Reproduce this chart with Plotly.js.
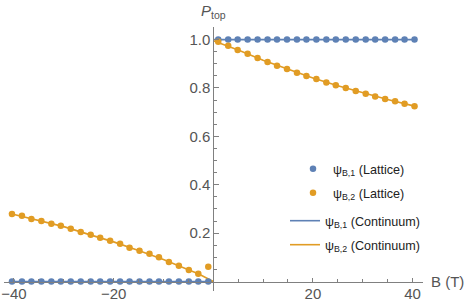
<!DOCTYPE html>
<html><head><meta charset="utf-8">
<script src="https://cdn.plot.ly/plotly-3.0.1.min.js"></script>
<style>html,body{margin:0;padding:0;background:#fff;overflow:hidden;}</style>
</head><body><div id="chart" style="width:466px;height:303px;"></div>
<script>
// ---- data ----
const latticeBNeg = [-40.4, -38.4, -36.5, -34.5, -32.5, -30.6, -28.6, -26.6, -24.6, -22.7, -20.7, -18.7, -16.8, -14.8, -12.8, -10.9, -8.9, -6.9, -4.9, -3.0, -1.0];
const latticeBPos = [1.0, 3.0, 4.9, 6.9, 8.9, 10.9, 12.8, 14.8, 16.8, 18.7, 20.7, 22.7, 24.6, 26.6, 28.6, 30.6, 32.5, 34.5, 36.5, 38.4, 40.4];
const psi1LatticeNeg = [0,0,0,0,0,0,0,0,0,0,0,0,0,0,0,0,0,0,0,0,0];
const psi1LatticePos = [1,1,1,1,1,1,1,1,1,1,1,1,1,1,1,1,1,1,1,1,1];
const psi2LatticeNeg = [0.279, 0.272, 0.259, 0.250, 0.239, 0.231, 0.218, 0.205, 0.193, 0.181, 0.169, 0.156, 0.140, 0.127, 0.115, 0.100, 0.081, 0.065, 0.048, 0.032, 0.061];
const psi2LatticePos = [0.991, 0.974, 0.957, 0.941, 0.924, 0.907, 0.892, 0.878, 0.863, 0.849, 0.837, 0.823, 0.811, 0.800, 0.787, 0.776, 0.765, 0.754, 0.745, 0.735, 0.725];

const contBNeg = [-41.0, -35, -30, -25, -20, -15, -10, -5, -3, 0];
const psi2ContNeg = [0.282, 0.252, 0.227, 0.195, 0.164, 0.128, 0.091, 0.049, 0.032, 0.0];
const contBPos = [0, 5, 10, 15, 20, 25, 30, 35, 40.4];
const psi2ContPos = [0.995, 0.957, 0.915, 0.877, 0.841, 0.809, 0.779, 0.752, 0.725];
const psi1ContB = [-41.0, 0, null, 0, 40.4];
const psi1ContP = [0, 0, null, 1, 1];

const xTickVals = [-40, -20, 20, 40];
const xTickText = ['\u221240', '\u221220', '20', '40'];
const yTickVals = [0.2, 0.4, 0.6, 0.8, 1.0];
const yTickText = ['0.2', '0.4', '0.6', '0.8', '1.0'];
const xMinorVals = [-35, -30, -25, -15, -10, -5, 5, 10, 15, 25, 30, 35];
const yMinorVals = [0.05, 0.1, 0.15, 0.25, 0.3, 0.35, 0.45, 0.5, 0.55, 0.65, 0.7, 0.75, 0.85, 0.9, 0.95, 1.05];

const names = ['\u03c8<sub>B,1</sub> (Lattice)', '\u03c8<sub>B,2</sub> (Lattice)',
               '\u03c8<sub>B,1</sub> (Continuum)', '\u03c8<sub>B,2</sub> (Continuum)'];

// ---- styling ----
const BLUE = '#5E81B5', ORANGE = '#E19C24';
const FONT = 'Liberation Sans, Arial, sans-serif';
const xRange = [-42.0, 42.1];
const yRange = [-0.039, 1.052];

const traces = [
  {x: psi1ContB, y: psi1ContP, mode: 'lines', line: {color: BLUE, width: 1.6}, connectgaps: false,
   name: names[2], legend: 'legend3', hoverinfo: 'skip'},
  {x: contBNeg.concat([null], contBPos), y: psi2ContNeg.concat([null], psi2ContPos), mode: 'lines',
   line: {color: ORANGE, width: 1.6}, connectgaps: false, name: names[3], legend: 'legend4', hoverinfo: 'skip'},
  {x: latticeBNeg.concat(latticeBPos), y: psi1LatticeNeg.concat(psi1LatticePos), mode: 'markers',
   marker: {color: BLUE, size: 6.5}, name: names[0], legend: 'legend'},
  {x: latticeBNeg.concat(latticeBPos), y: psi2LatticeNeg.concat(psi2LatticePos), mode: 'markers',
   marker: {color: ORANGE, size: 6.5}, name: names[1], legend: 'legend2'}
];

const L = 4, R = 43, T = 27, B = 12, W = 466, H = 303;
const pw = W - L - R, ph = H - T - B;
const px2x = p => (p - L) / pw;
const py2y = p => (H - B - p) / ph;

function legendAt(xpx, ypx) {
  return {x: px2x(xpx), y: py2y(ypx), xanchor: 'left', yanchor: 'middle',
          bgcolor: 'rgba(0,0,0,0)', borderwidth: 0, font: {family: FONT, size: 12.6, color: '#222'}};
}

const layout = {
  width: W, height: H,
  margin: {l: L, r: R, t: T, b: B, pad: 0},
  paper_bgcolor: '#fff', plot_bgcolor: '#fff',
  font: {family: FONT, size: 15, color: '#555'},
  showlegend: true,
  xaxis: {
    range: xRange, anchor: 'free', position: (0 - yRange[0]) / (yRange[1] - yRange[0]),
    showgrid: false, zeroline: false, showline: true, linecolor: '#808080', linewidth: 1,
    ticks: 'inside', ticklen: 4, tickcolor: '#808080', tickwidth: 1,
    tickmode: 'array', tickvals: xTickVals, ticktext: xTickText, ticklabelstandoff: -2,
    tickfont: {family: FONT, size: 15, color: '#555'},
    minor: {tickmode: 'array', tickvals: xMinorVals, ticks: 'inside', ticklen: 2.5, tickcolor: '#808080', showgrid: false}
  },
  yaxis: {
    range: yRange, anchor: 'free', position: (0 - xRange[0]) / (xRange[1] - xRange[0]),
    showgrid: false, zeroline: false, showline: true, linecolor: '#808080', linewidth: 1,
    ticks: 'inside', ticklen: 4.5, tickcolor: '#808080', tickwidth: 1,
    tickmode: 'array', tickvals: yTickVals, ticktext: yTickText,
    tickfont: {family: FONT, size: 15, color: '#555'},
    minor: {tickmode: 'array', tickvals: yMinorVals, ticks: 'inside', ticklen: 2.5, tickcolor: '#808080', showgrid: false}
  },
  legend: legendAt(293, 169),
  legend2: legendAt(293, 193),
  legend3: legendAt(285, 221),
  legend4: legendAt(285, 245),
  annotations: [
    {text: '<i>P</i><sub>top</sub>', xref: 'paper', yref: 'paper', x: px2x(199), y: py2y(12),
     xanchor: 'left', yanchor: 'middle', showarrow: false, font: {family: FONT, size: 15, color: '#555'}},
    {text: 'B (T)', xref: 'paper', yref: 'paper', x: px2x(429), y: py2y(281),
     xanchor: 'left', yanchor: 'middle', showarrow: false, font: {family: FONT, size: 15, color: '#555'}}
  ]
};

Plotly.newPlot('chart', traces, layout, {displayModeBar: false, staticPlot: true});
</script></body></html>
